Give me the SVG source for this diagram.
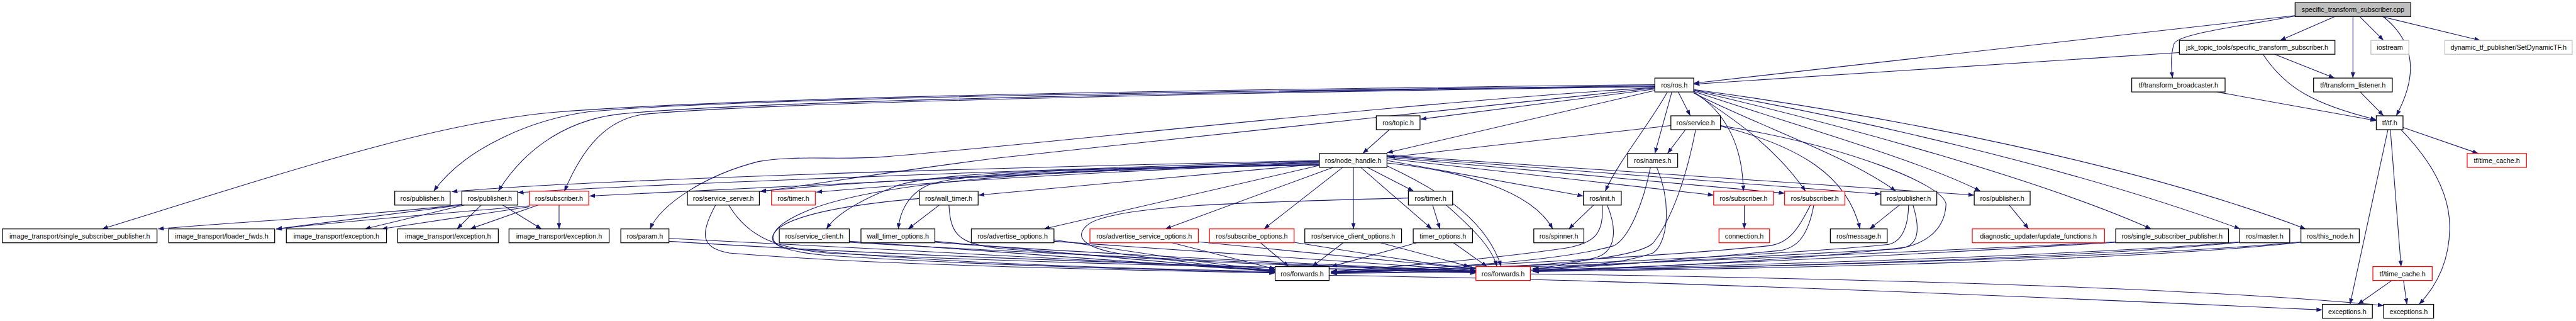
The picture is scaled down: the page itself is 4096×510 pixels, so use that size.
<svg xmlns="http://www.w3.org/2000/svg" width="4096" height="510" viewBox="0 0 4096 510">
<style>
.e{fill:none;stroke:#191970;stroke-width:1.4;marker-end:url(#a)}
.n rect{fill:#fff;stroke:#000;stroke-width:1.6}
.r rect{fill:#fff;stroke:#ff0000;stroke-width:1.6}
.g rect{fill:#fff;stroke:#bfbfbf;stroke-width:1.6}
.c rect{fill:#bfbfbf;stroke:#000;stroke-width:1.6}
text{font-family:"Liberation Sans",Arial,sans-serif;font-size:14px;fill:#000;text-anchor:middle}
</style>
<defs>
<marker id="a" markerWidth="12" markerHeight="9" refX="12" refY="4.5" orient="auto" markerUnits="userSpaceOnUse"><path d="M0,0 L12,4.5 L0,9 z" fill="#191970"/></marker>
</defs>
<rect width="4096" height="510" fill="#fff"/>
<g transform="scale(0.773)">
<g id="edges">
<path class="e" d="M4803,34 L4690,83"/>
<path class="e" d="M4854,34 L4903,83"/>
<path class="e" d="M4899,34 L5102,83"/>
<path class="e" d="M4902,34 C4985,100 4960,180 4929,238"/>
<path class="e" d="M4840,34 L4840,160.5"/>
<path class="e" d="M4721,33 C4600,55 4480,70 4472,90 C4464,115 4466,140 4469,160.5"/>
<path class="e" d="M4721,32 L3484,171"/>
<path class="e" d="M4483,108 L3484,173"/>
<path class="e" d="M4655,111.5 C4700,180 4760,215 4888,246"/>
<path class="e" d="M4679,111.5 L4802,160.5"/>
<path class="e" d="M4560,189 L4888,248"/>
<path class="e" d="M4855,189 L4903,238"/>
<path class="e" d="M4943,262 L5098,315.5"/>
<path class="e" d="M4912,266.5 L4834,625.5"/>
<path class="e" d="M4917,266.5 L4939,548"/>
<path class="e" d="M4939,266.5 C5020,350 5040,420 5039,470 C5038,540 5010,590 4976,625.5"/>
<path class="e" d="M4920,576.5 L4850,625.5"/>
<path class="e" d="M4944,576.5 L4951,625.5"/>
<path class="e" d="M3148,563 C3800,572 4500,590 4903,628"/>
<path class="e" d="M2734,566 C3400,575 4300,615 4777,637"/>
<path class="e" d="M3404,174 C2700,182 1600,195 1150,230 C900,250 600,350 210,470.5"/>
<path class="e" d="M3404,176 C2700,185 1500,200 1209,230 C1100,245 960,300 892,393"/>
<path class="e" d="M3404,177 C2700,186 1550,205 1270,235 C1150,250 1070,320 1025,393"/>
<path class="e" d="M3404,178 C2700,188 1600,208 1324,235 C1250,245 1200,300 1161,393"/>
<path class="e" d="M3404,180 C2900,210 2200,290 1824,322 C1720,330 1640,318 1560,332 C1450,360 1360,420 1337,470.5"/>
<path class="e" d="M3404,181 C3000,225 2400,285 2050,325 C1850,350 1700,375 1564,394"/>
<path class="e" d="M3404,183 L2922,245"/>
<path class="e" d="M3404,186 L2853,314"/>
<path class="e" d="M3430,189 C3390,260 3330,330 3302,393"/>
<path class="e" d="M3439,189 L3404,315.5"/>
<path class="e" d="M3452,189 L3477,238"/>
<path class="e" d="M3484,189 C3550,230 3585,300 3586,393"/>
<path class="e" d="M3484,190 C3560,240 3650,300 3714,393"/>
<path class="e" d="M3484,191 C3620,260 3800,320 3900,393"/>
<path class="e" d="M3484,188 C3700,260 3950,330 4074,393"/>
<path class="e" d="M3484,186 C3800,260 4200,370 4425,470.5"/>
<path class="e" d="M3484,185 C3800,240 4250,340 4608,470.5"/>
<path class="e" d="M3484,184 C3900,240 4400,340 4743,470.5"/>
<path class="e" d="M3539,258 C3800,300 4000,380 4003,420 C4000,480 3950,505 3900,512 C3600,530 3300,545 3153,552"/>
<path class="e" d="M3539,259 C3700,300 3800,360 3826,470.5"/>
<path class="e" d="M3437,258 L2857,323"/>
<path class="e" d="M3467,266.5 L3430,315.5"/>
<path class="e" d="M3488,266.5 C3470,360 3440,450 3400,500 C3350,545 3000,555 2738,560"/>
<path class="e" d="M3395,344 C3380,420 3350,490 3320,505 C3200,540 2900,555 2738,558"/>
<path class="e" d="M3408,344 C3440,420 3430,500 3400,520 C3330,545 3200,552 3153,552"/>
<path class="e" d="M2858,266.5 L2803,315.5"/>
<path class="e" d="M2714,340 L2147,470.5"/>
<path class="e" d="M2742,344 L2397,470.5"/>
<path class="e" d="M2762,344 L2600,470.5"/>
<path class="e" d="M2784,344 L2784,470.5"/>
<path class="e" d="M2799,344 L2945,470.5"/>
<path class="e" d="M2813,344 L2908,393"/>
<path class="e" d="M2853,341 C2980,400 3060,460 3088,548"/>
<path class="e" d="M2853,335 C3000,350 3150,390 3194,470.5"/>
<path class="e" d="M2853,330 L3257,403"/>
<path class="e" d="M2853,326 L3525,401"/>
<path class="e" d="M2853,323 L3671,397"/>
<path class="e" d="M2853,321 L3869,399"/>
<path class="e" d="M2853,319 L4061,401"/>
<path class="e" d="M2714,330 C2000,345 1200,370 929,394"/>
<path class="e" d="M2714,331 C2100,350 1300,380 1065,396"/>
<path class="e" d="M2714,332 C2200,355 1500,385 1212,403"/>
<path class="e" d="M2714,334 C2300,345 1800,370 1564,393"/>
<path class="e" d="M2714,335 C2300,350 1900,375 1679,395"/>
<path class="e" d="M2714,337 L2013,401"/>
<path class="e" d="M2714,338 C2300,345 1950,350 1850,380 C1770,410 1720,440 1700,470.5"/>
<path class="e" d="M2714,339 C2300,345 2000,350 1910,380 C1865,400 1850,440 1848,470.5"/>
<path class="e" d="M2714,340 C2100,345 1800,380 1668,430 C1580,465 1570,500 1620,510 C1900,540 2300,552 2623,558"/>
<path class="e" d="M1932,421.5 L1868,470.5"/>
<path class="e" d="M1891,408 C1750,420 1640,440 1600,470 C1570,500 1600,515 1700,525 C2000,545 2400,555 2623,560"/>
<path class="e" d="M1952,421.5 C1955,480 1970,500 2050,510 C2400,540 2800,550 3036,557"/>
<path class="e" d="M1472,421.5 C1440,480 1440,510 1500,520 C1800,545 2300,555 2623,561"/>
<path class="e" d="M1499,421.5 C1540,490 1600,510 1700,520 C2200,545 2700,550 3036,559"/>
<path class="e" d="M1376,490 C1800,510 2300,540 2623,555"/>
<path class="e" d="M1376,496 C1900,530 2600,550 3036,561"/>
<path class="e" d="M1747,496 C2100,520 2400,545 2623,557"/>
<path class="e" d="M1747,498 C2200,525 2700,545 3036,558"/>
<path class="e" d="M1923,496 C2200,520 2450,545 2623,557"/>
<path class="e" d="M1923,498 C2300,525 2750,545 3036,557"/>
<path class="e" d="M2168,493 C2350,520 2500,545 2623,555"/>
<path class="e" d="M2168,496 C2500,520 2800,540 3036,556"/>
<path class="e" d="M2411,499 L2623,553"/>
<path class="e" d="M2465,497 C2700,520 2900,540 3036,553"/>
<path class="e" d="M2593,499 L2651,548"/>
<path class="e" d="M2662,498 C2800,520 2950,545 3036,552"/>
<path class="e" d="M2763,499 L2699,548"/>
<path class="e" d="M2840,499 L3023,548"/>
<path class="e" d="M2914,499 L2738,548"/>
<path class="e" d="M2990,499 L3059,548"/>
<path class="e" d="M2947,421.5 L2962,470.5"/>
<path class="e" d="M2975,421.5 C3030,470 3070,510 3079,548"/>
<path class="e" d="M2897,407 C2600,415 2300,420 2240,460 C2200,490 2240,515 2330,525 C2450,540 2550,552 2623,559"/>
<path class="e" d="M3278,421.5 L3227,470.5"/>
<path class="e" d="M3296,421.5 C3300,480 3280,500 3220,510 C3050,535 2850,550 2738,558"/>
<path class="e" d="M3306,421.5 C3330,480 3320,520 3280,530 C3220,545 3180,550 3153,553"/>
<path class="e" d="M3588,421.5 L3588,470.5"/>
<path class="e" d="M3724,421.5 C3700,470 3680,500 3640,505 C3400,530 2950,550 2738,559"/>
<path class="e" d="M3731,421.5 C3720,480 3700,510 3660,515 C3450,535 3250,550 3153,555"/>
<path class="e" d="M3907,421.5 L3846,470.5"/>
<path class="e" d="M3926,421.5 C3925,470 3910,500 3880,503 C3600,530 3000,552 2738,560"/>
<path class="e" d="M3935,421.5 C3950,470 3945,500 3920,508 C3700,535 3350,552 3153,556"/>
<path class="e" d="M4133,421.5 L4173,470.5"/>
<path class="e" d="M4352,497 C3900,520 3200,550 2738,560"/>
<path class="e" d="M4352,498 C4000,520 3500,545 3153,556"/>
<path class="e" d="M4607,497 C4300,525 3400,555 2738,561"/>
<path class="e" d="M4607,498 C4300,530 3600,550 3153,557"/>
<path class="e" d="M4733,497 C4400,530 3500,555 2738,562"/>
<path class="e" d="M4733,498 C4400,535 3700,552 3153,558"/>
<path class="e" d="M950,420 C800,440 500,455 325,470.5"/>
<path class="e" d="M950,421.5 L568,470.5"/>
<path class="e" d="M955,421.5 L750,470.5"/>
<path class="e" d="M990,421.5 L940,470.5"/>
<path class="e" d="M1034,421.5 L1114,470.5"/>
<path class="e" d="M1089,423 C900,440 700,455 568,471"/>
<path class="e" d="M1089,425 L785,470.5"/>
<path class="e" d="M1107,421.5 L967,470.5"/>
<path class="e" d="M1150,421.5 L1150,470.5"/>
</g>
<g id="n_cpp" class="c"><rect x="4721" y="5.5" width="238" height="28.5"/><text x="4840" y="25">specific_transform_subscriber.cpp</text></g>
<g id="n_jsk" class="n"><rect x="4483" y="83" width="320" height="28.5"/><text x="4643" y="102.5">jsk_topic_tools/specific_transform_subscriber.h</text></g>
<g id="n_iostream" class="g"><rect x="4877" y="83" width="78" height="28.5"/><text x="4916" y="102.5">iostream</text></g>
<g id="n_dyn" class="g"><rect x="5029" y="83" width="262" height="28.5"/><text x="5160" y="102.5">dynamic_tf_publisher/SetDynamicTF.h</text></g>
<g id="n_ros" class="n"><rect x="3404" y="160.5" width="80" height="28.5"/><text x="3444" y="180">ros/ros.h</text></g>
<g id="n_tb" class="n"><rect x="4385" y="160.5" width="192" height="28.5"/><text x="4481" y="180">tf/transform_broadcaster.h</text></g>
<g id="n_tl" class="n"><rect x="4759" y="160.5" width="162" height="28.5"/><text x="4840" y="180">tf/transform_listener.h</text></g>
<g id="n_topic" class="n"><rect x="2831" y="238" width="90" height="28.5"/><text x="2876" y="257.5">ros/topic.h</text></g>
<g id="n_service" class="n"><rect x="3437" y="238" width="102" height="28.5"/><text x="3488" y="257.5">ros/service.h</text></g>
<g id="n_tf" class="n"><rect x="4888" y="238" width="55" height="28.5"/><text x="4915.5" y="257.5">tf/tf.h</text></g>
<g id="n_nh" class="n"><rect x="2714" y="315.5" width="139" height="28.5"/><text x="2783.5" y="335">ros/node_handle.h</text></g>
<g id="n_names" class="n"><rect x="3348" y="315.5" width="103" height="28.5"/><text x="3399.5" y="335">ros/names.h</text></g>
<g id="n_tc1" class="r"><rect x="5075" y="315.5" width="122" height="28.5"/><text x="5136" y="335">tf/time_cache.h</text></g>
<g id="n_pub1" class="n"><rect x="812" y="393" width="114" height="28.5"/><text x="869" y="412.5">ros/publisher.h</text></g>
<g id="n_pub2" class="n"><rect x="950" y="393" width="115" height="28.5"/><text x="1007.5" y="412.5">ros/publisher.h</text></g>
<g id="n_sub1" class="r"><rect x="1089" y="393" width="122" height="28.5"/><text x="1150" y="412.5">ros/subscriber.h</text></g>
<g id="n_ssrv" class="n"><rect x="1414" y="393" width="148" height="28.5"/><text x="1488" y="412.5">ros/service_server.h</text></g>
<g id="n_timer_r" class="r"><rect x="1587" y="393" width="90" height="28.5"/><text x="1632" y="412.5">ros/timer.h</text></g>
<g id="n_wt" class="n"><rect x="1891" y="393" width="121" height="28.5"/><text x="1951.5" y="412.5">ros/wall_timer.h</text></g>
<g id="n_timer" class="n"><rect x="2897" y="393" width="91" height="28.5"/><text x="2942.5" y="412.5">ros/timer.h</text></g>
<g id="n_init" class="n"><rect x="3257" y="393" width="78" height="28.5"/><text x="3296" y="412.5">ros/init.h</text></g>
<g id="n_sub2" class="r"><rect x="3525" y="393" width="123" height="28.5"/><text x="3586.5" y="412.5">ros/subscriber.h</text></g>
<g id="n_sub3" class="r"><rect x="3671" y="393" width="124" height="28.5"/><text x="3733" y="412.5">ros/subscriber.h</text></g>
<g id="n_pub3" class="n"><rect x="3869" y="393" width="115" height="28.5"/><text x="3926.5" y="412.5">ros/publisher.h</text></g>
<g id="n_pub4" class="n"><rect x="4061" y="393" width="115" height="28.5"/><text x="4118.5" y="412.5">ros/publisher.h</text></g>
<g id="n_it_ssp" class="n"><rect x="5" y="470.5" width="318" height="28.5"/><text x="164" y="490">image_transport/single_subscriber_publisher.h</text></g>
<g id="n_it_lf" class="n"><rect x="347" y="470.5" width="218" height="28.5"/><text x="456" y="490">image_transport/loader_fwds.h</text></g>
<g id="n_it_ex1" class="n"><rect x="589" y="470.5" width="206" height="28.5"/><text x="692" y="490">image_transport/exception.h</text></g>
<g id="n_it_ex2" class="n"><rect x="818" y="470.5" width="207" height="28.5"/><text x="921.5" y="490">image_transport/exception.h</text></g>
<g id="n_it_ex3" class="n"><rect x="1047" y="470.5" width="206" height="28.5"/><text x="1150" y="490">image_transport/exception.h</text></g>
<g id="n_param" class="n"><rect x="1277" y="470.5" width="99" height="28.5"/><text x="1326.5" y="490">ros/param.h</text></g>
<g id="n_sc" class="n"><rect x="1603" y="470.5" width="144" height="28.5"/><text x="1675" y="490">ros/service_client.h</text></g>
<g id="n_wto" class="n"><rect x="1771" y="470.5" width="152" height="28.5"/><text x="1847" y="490">wall_timer_options.h</text></g>
<g id="n_ao" class="n"><rect x="1998" y="470.5" width="170" height="28.5"/><text x="2083" y="490">ros/advertise_options.h</text></g>
<g id="n_aso" class="r"><rect x="2242" y="470.5" width="223" height="28.5"/><text x="2353.5" y="490">ros/advertise_service_options.h</text></g>
<g id="n_so" class="r"><rect x="2488" y="470.5" width="174" height="28.5"/><text x="2575" y="490">ros/subscribe_options.h</text></g>
<g id="n_sco" class="n"><rect x="2684" y="470.5" width="199" height="28.5"/><text x="2783.5" y="490">ros/service_client_options.h</text></g>
<g id="n_to" class="n"><rect x="2907" y="470.5" width="122" height="28.5"/><text x="2968" y="490">timer_options.h</text></g>
<g id="n_spin" class="n"><rect x="3155" y="470.5" width="103" height="28.5"/><text x="3206.5" y="490">ros/spinner.h</text></g>
<g id="n_conn" class="r"><rect x="3536" y="470.5" width="104" height="28.5"/><text x="3588" y="490">connection.h</text></g>
<g id="n_msg" class="n"><rect x="3765" y="470.5" width="117" height="28.5"/><text x="3823.5" y="490">ros/message.h</text></g>
<g id="n_duf" class="r"><rect x="4057" y="470.5" width="272" height="28.5"/><text x="4193" y="490">diagnostic_updater/update_functions.h</text></g>
<g id="n_ssp" class="n"><rect x="4352" y="470.5" width="232" height="28.5"/><text x="4468" y="490">ros/single_subscriber_publisher.h</text></g>
<g id="n_master" class="n"><rect x="4607" y="470.5" width="103" height="28.5"/><text x="4658.5" y="490">ros/master.h</text></g>
<g id="n_thisnode" class="n"><rect x="4733" y="470.5" width="120" height="28.5"/><text x="4793" y="490">ros/this_node.h</text></g>
<g id="n_fw" class="n"><rect x="2623" y="548" width="111" height="28.5"/><text x="2678.5" y="567.5">ros/forwards.h</text></g>
<g id="n_fw_r" class="r"><rect x="3036" y="548" width="112" height="28.5"/><text x="3092" y="567.5">ros/forwards.h</text></g>
<g id="n_tc2" class="r"><rect x="4881" y="548" width="122" height="28.5"/><text x="4942" y="567.5">tf/time_cache.h</text></g>
<g id="n_ex1" class="n"><rect x="4777" y="625.5" width="103" height="28.5"/><text x="4828.5" y="645">exceptions.h</text></g>
<g id="n_ex2" class="n"><rect x="4903" y="625.5" width="103" height="28.5"/><text x="4954.5" y="645">exceptions.h</text></g>
</g>
</svg>
